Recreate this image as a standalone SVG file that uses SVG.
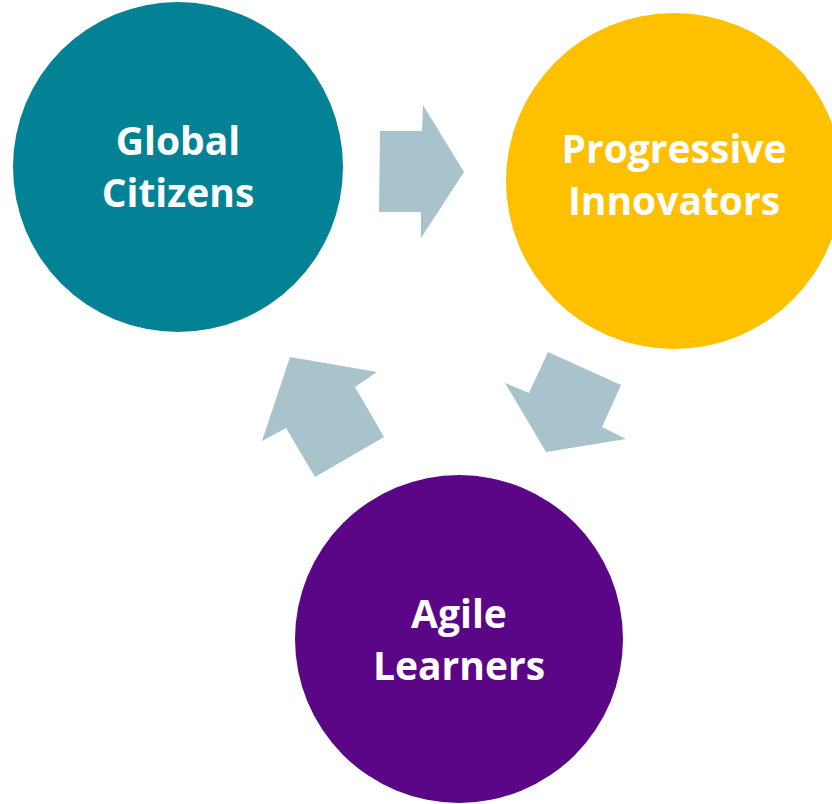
<svg xmlns="http://www.w3.org/2000/svg" width="832" height="804" viewBox="0 0 832 804">
<style>
.lbl{font-family:"Open Sans","Liberation Sans",sans-serif;font-weight:bold;font-size:39px;fill:#ffffff;text-anchor:middle}
.arr{fill:#A9C3CC}
</style>
<rect width="832" height="804" fill="#ffffff"/>
<g id="connectors">
<polygon class="arr" points="380,131 422,131 423,105 464,172 421,238 421,212 379,212"/>
<polygon class="arr" points="548,352 621,385 602,427 626,439 546,452 505,383 529,393"/>
<polygon class="arr" points="290,357 377,372 355,387 384,437 315,477 286,428 262,441"/>
</g>
<g id="global-citizens">
<circle cx="178" cy="167" r="165" fill="#038296"/>
<text class="lbl" x="178" y="155">Global</text>
<text class="lbl" x="178" y="207">Citizens</text>
</g>
<g id="progressive-innovators">
<circle cx="674" cy="181" r="168" fill="#FFC000"/>
<text class="lbl" x="674" y="163">Progressive</text>
<text class="lbl" x="674" y="215">Innovators</text>
</g>
<g id="agile-learners">
<circle cx="459" cy="639" r="164" fill="#5B0687"/>
<text class="lbl" x="459" y="628">Agile</text>
<text class="lbl" x="459" y="680">Learners</text>
</g>
</svg>
